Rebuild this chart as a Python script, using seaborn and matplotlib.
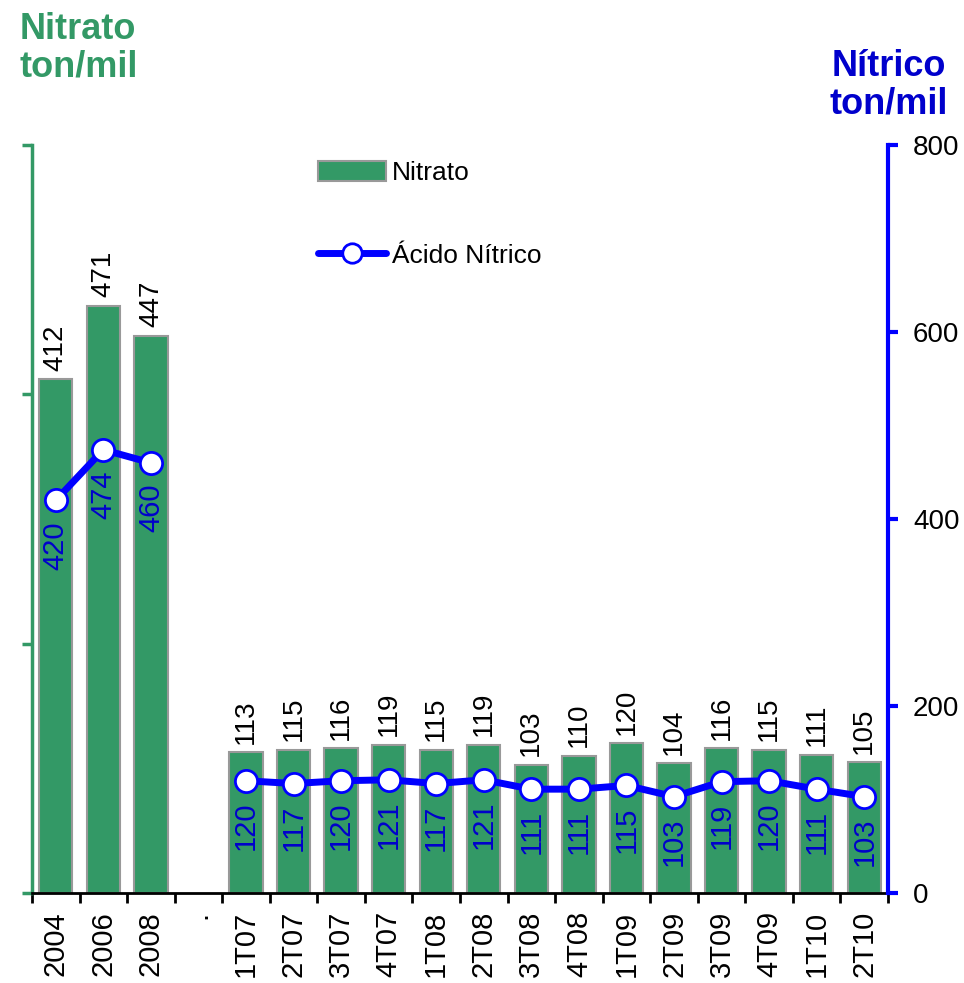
import matplotlib
matplotlib.use('Agg')
import matplotlib.pyplot as plt
from matplotlib.lines import Line2D
from matplotlib.patches import Patch
import seaborn as sns
import numpy as np
import pandas as pd

GREEN = '#339966'
BLUE = '#0000FF'
DARK_BLUE = '#0000CC'
EDGE = '#999999'

categories = ['2004', '2006', '2008', '.', '1T07', '2T07', '3T07', '4T07',
              '1T08', '2T08', '3T08', '4T08', '1T09', '2T09', '3T09', '4T09',
              '1T10', '2T10']
nitrato = [412, 471, 447, np.nan, 113, 115, 116, 119, 115, 119, 103, 110,
           120, 104, 116, 115, 111, 105]
acido_nitrico = [420, 474, 460, np.nan, 120, 117, 120, 121, 117, 121, 111,
                 111, 115, 103, 119, 120, 111, 103]

df = pd.DataFrame({'periodo': categories, 'nitrato': nitrato, 'acido': acido_nitrico})

sns.set_theme(style='white')
plt.rcParams['font.family'] = ['Liberation Sans', 'DejaVu Sans']
plt.rcParams['text.color'] = 'black'

fig = plt.figure(figsize=(9.64, 9.83), dpi=100)
ax = fig.add_axes([0.0332, 0.0916, 0.888, 0.761])

sns.barplot(data=df, x='periodo', y='nitrato', order=categories, color=GREEN,
            saturation=1, width=0.7, edgecolor=EDGE, linewidth=1.5, ax=ax)
ax.set_ylim(0, 600)
ax.set_xlim(-0.5, len(categories) - 0.5)

ax2 = ax.twinx()
xpos = np.arange(len(categories))
ax2.plot(xpos, df['acido'], color=BLUE, lw=5, marker='o', ms=16,
         mfc='white', mec=BLUE, mew=2, zorder=5)
ax2.set_ylim(0, 800)
ax2.set_xlim(-0.5, len(categories) - 0.5)

# data labels
for i, v in enumerate(nitrato):
    if not np.isnan(v):
        ax.annotate(f'{v:.0f}', (i, v), xytext=(0, 6), textcoords='offset points',
                    rotation=90, ha='center', va='bottom', fontsize=20, color='black')
for i, v in enumerate(acido_nitrico):
    if not np.isnan(v):
        ax2.annotate(f'{v:.0f}', (i, v), xytext=(0, -15), textcoords='offset points',
                     rotation=90, ha='center', va='top', fontsize=21, color=DARK_BLUE,
                     zorder=6)

# x axis: labels at centers, ticks at boundaries
ax.set_xlabel('')
ax.set_ylabel('')
ax.set_xticks(xpos)
ax.set_xticklabels(categories, rotation=90, fontsize=21, color='black')
ax.set_xticks(np.arange(-0.5, len(categories)), minor=True)
ax.tick_params(axis='x', which='major', length=0, pad=13)
ax.tick_params(axis='x', which='minor', length=7, width=2, color='black',
               direction='out', bottom=True)

# left axis
ax.set_yticks([0, 200, 400, 600])
ax.set_yticklabels([])
ax.tick_params(axis='y', which='major', length=7, width=2.5, color=GREEN,
               direction='out', left=True)

# right axis
ax2.set_yticks([0, 200, 400, 600, 800])
ax2.tick_params(axis='y', length=7, width=3, color=BLUE, direction='out',
                right=True, labelsize=20, labelcolor='black', pad=11)
ax2.set_ylabel('')

for a in (ax, ax2):
    a.spines['top'].set_visible(False)
ax.spines['right'].set_visible(False)
ax2.spines['left'].set_visible(False)
ax2.spines['bottom'].set_visible(False)
ax.spines['left'].set_color(GREEN)
ax.spines['left'].set_linewidth(2.5)
ax.spines['bottom'].set_color('black')
ax.spines['bottom'].set_linewidth(2)
ax2.spines['right'].set_color(BLUE)
ax2.spines['right'].set_linewidth(3)

# axis titles
fig.text(0.02, 0.988, 'Nitrato\nton/mil', ha='left', va='top', fontsize=26,
         fontweight='bold', color=GREEN, linespacing=1.1)
fig.text(0.983, 0.95, 'Nítrico\nton/mil', ha='right', va='top', fontsize=26,
         fontweight='bold', color=DARK_BLUE, linespacing=1.1, multialignment='center')

handles = [Patch(facecolor=GREEN, edgecolor=EDGE, linewidth=1.5, label='Nitrato'),
           Line2D([0], [0], color=BLUE, lw=5, marker='o', ms=14, mfc='white',
                  mec=BLUE, mew=2, label='Ácido Nítrico')]
ax2.legend(handles=handles, loc='upper left', bbox_to_anchor=(0.306, 1.01),
           frameon=False, fontsize=19, labelspacing=2.2, handlelength=2.6,
           handletextpad=0.2, handleheight=0.8, labelcolor='black')

fig.savefig('out.png', dpi=100, facecolor='white')
